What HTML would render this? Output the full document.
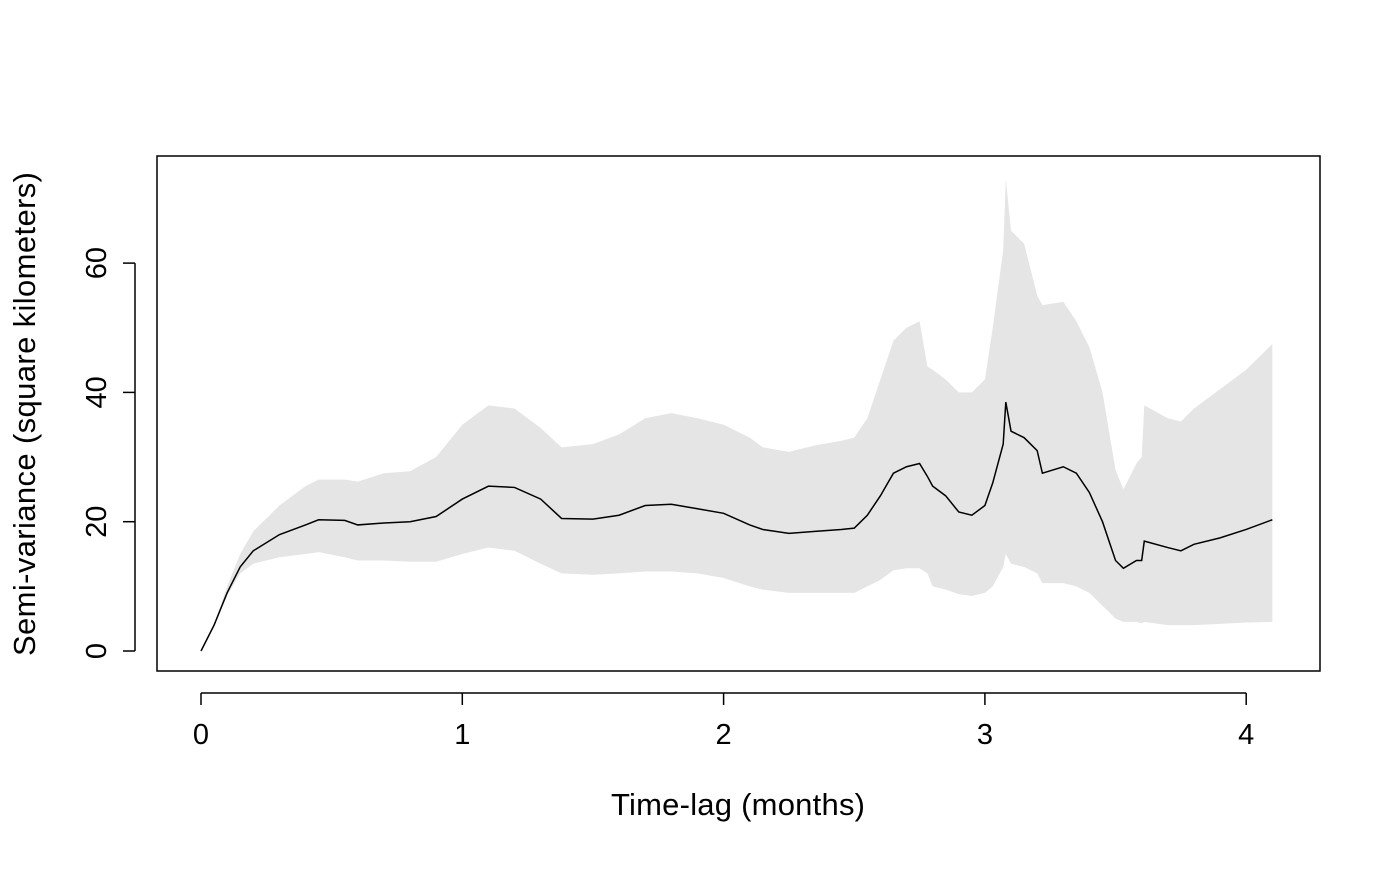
<!DOCTYPE html>
<html><head><meta charset="utf-8"><style>
body{margin:0;background:#fff}
text{font-family:"Liberation Sans",Arial,sans-serif;font-size:29px;fill:#000}
text.title{font-size:31px}
</style></head><body>
<svg id="chart" width="1400" height="866" xmlns="http://www.w3.org/2000/svg">
</svg>
<script>
const lags=[0,0.05,0.1,0.15,0.2,0.3,0.4,0.45,0.55,0.6,0.7,0.8,0.9,1.0,1.1,1.2,1.3,1.38,1.5,1.6,1.7,1.8,1.9,2.0,2.1,2.15,2.25,2.35,2.45,2.5,2.55,2.6,2.65,2.7,2.75,2.78,2.8,2.85,2.9,2.95,3.0,3.03,3.07,3.08,3.1,3.15,3.2,3.22,3.3,3.35,3.4,3.45,3.5,3.53,3.58,3.6,3.61,3.7,3.75,3.8,3.9,4.0,4.1];
const meanVals=[0,4,9,13,15.5,18,19.5,20.3,20.2,19.5,19.8,20,20.8,23.5,25.5,25.3,23.5,20.5,20.4,21,22.5,22.7,22,21.3,19.5,18.8,18.2,18.5,18.8,19,21,24,27.5,28.5,29,27,25.5,24,21.5,21,22.5,26,32,38.5,34,33,31,27.5,28.5,27.5,24.5,20,14,12.8,14,14,17,16,15.5,16.5,17.5,18.8,20.3];
const lowerVals=[0,4,8.5,12,13.5,14.5,15,15.3,14.5,14,14,13.8,13.8,15,16,15.5,13.5,12,11.8,12,12.3,12.3,12,11.3,10,9.5,9,9,9,9,10,11,12.5,12.8,12.8,12,10,9.5,8.8,8.5,9,10,13,15,13.5,13,12,10.5,10.5,10,9,7,5,4.5,4.5,4.3,4.5,4,4,4,4.2,4.4,4.5];
const upperVals=[0,4,10,15,18.5,22.5,25.5,26.5,26.5,26.2,27.5,27.8,30,35,38,37.5,34.5,31.5,32,33.5,36,36.8,36,35,33,31.5,30.8,31.8,32.5,33,36,42,48,50,51,44,43.5,42,40,40,42,50,62,73,65,63,55,53.5,54,51,47,40,28,25,29,30,38,36,35.5,37.5,40.5,43.5,47.5];
const xTicks=[0,1,2,3,4];
const yTicks=[0,20,40,60];
const X=v=>201+v*261.3, Y=v=>651-v*6.465;
const NS="http://www.w3.org/2000/svg", svg=document.getElementById('chart');
function mk(t,a,txt){const e=document.createElementNS(NS,t);for(const k in a)e.setAttribute(k,a[k]);if(txt!==undefined)e.textContent=txt;svg.appendChild(e);return e;}
let pts=lags.map((l,i)=>X(l)+','+Y(upperVals[i]));
for(let i=lags.length-1;i>=0;i--)pts.push(X(lags[i])+','+Y(lowerVals[i]));
const band=mk('polygon',{points:pts.join(' '),fill:'#e5e5e5',stroke:'none'});


const line=mk('polyline',{points:lags.map((l,i)=>X(l)+','+Y(meanVals[i])).join(' '),fill:'none',stroke:'#000','stroke-width':1.5});


const box=mk('rect',{x:157,y:156,width:1163,height:515,fill:'none',stroke:'#000','stroke-width':1.5});


const xa=mk('line',{x1:X(0),x2:X(4),y1:693,y2:693,stroke:'#000','stroke-width':1.5});


xTicks.forEach(t=>{
 const tk=mk('line',{x1:X(t),x2:X(t),y1:693,y2:705,stroke:'#000','stroke-width':1.5});
 
 
 const lb=mk('text',{x:X(t),y:744,'text-anchor':'middle'},String(t));
 
 
});
const ya=mk('line',{x1:135,x2:135,y1:Y(0),y2:Y(60),stroke:'#000','stroke-width':1.5});


yTicks.forEach(t=>{
 const tk=mk('line',{x1:123,x2:135,y1:Y(t),y2:Y(t),stroke:'#000','stroke-width':1.5});
 
 
 const lb=mk('text',{x:106,y:Y(t),'text-anchor':'middle',transform:`rotate(-90 106 ${Y(t)})`},String(t));
 
 
});
const xt=mk('text',{x:738,y:815,'text-anchor':'middle','class':'title','textLength':254},'Time-lag (months)');


const yt=mk('text',{x:35,y:414,'text-anchor':'middle','class':'title','textLength':484,transform:'rotate(-90 35 414)'},'Semi-variance (square kilometers)');


</script>
</body></html>
